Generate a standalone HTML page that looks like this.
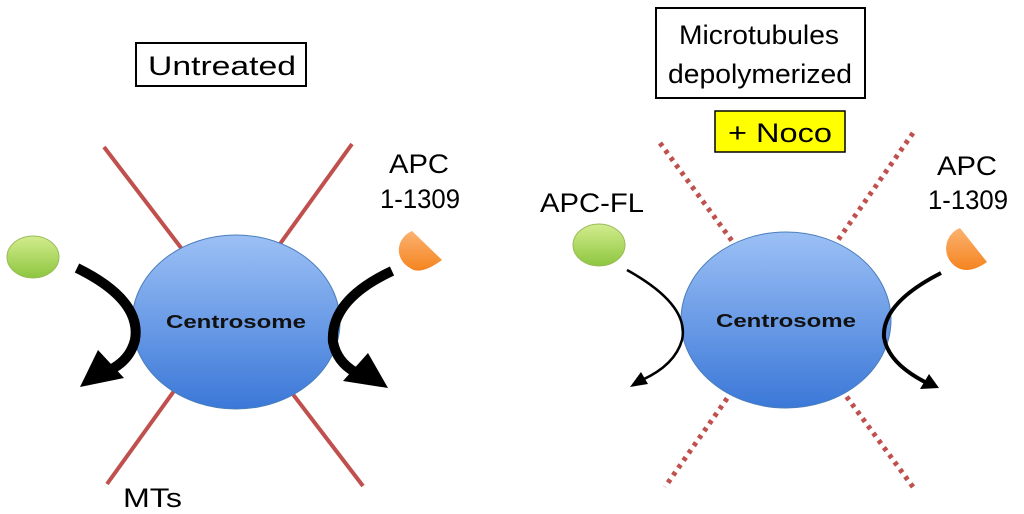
<!DOCTYPE html>
<html><head><meta charset="utf-8"><style>
body{margin:0;background:#fff;width:1024px;height:514px;overflow:hidden}
svg{display:block}
text{font-family:"Liberation Sans","DejaVu Sans",sans-serif}
</style></head><body>
<svg width="1024" height="514" viewBox="0 0 1024 514">
<defs>
<linearGradient id="g" x1="0" y1="0" x2="0" y2="1">
<stop offset="0" stop-color="#9cc0f5"/><stop offset="1" stop-color="#3b78d8"/></linearGradient>
<linearGradient id="gr" x1="0" y1="0" x2="0" y2="1">
<stop offset="0" stop-color="#d3ec8e"/><stop offset="1" stop-color="#8dc63f"/></linearGradient>
<linearGradient id="or" x1="0" y1="0" x2="0" y2="1">
<stop offset="0" stop-color="#fbb271"/><stop offset="1" stop-color="#f5841f"/></linearGradient>
</defs>
<rect x="136" y="43" width="170" height="43" fill="#fff" stroke="#000" stroke-width="2"/>
<text x="148" y="75" font-size="27" textLength="148" lengthAdjust="spacingAndGlyphs">Untreated</text>
<rect x="656" y="8" width="209" height="90" fill="#fff" stroke="#000" stroke-width="2"/>
<text x="679" y="44" font-size="27" textLength="160" lengthAdjust="spacingAndGlyphs">Microtubules</text>
<text x="668" y="83" font-size="27" textLength="184" lengthAdjust="spacingAndGlyphs">depolymerized</text>
<rect x="715" y="111" width="130" height="41" fill="#ffff00" stroke="#000" stroke-width="1.5"/>
<text x="728" y="142" font-size="27" textLength="104" lengthAdjust="spacingAndGlyphs">+ Noco</text>
<!-- left MTs -->
<line x1="104" y1="147" x2="363" y2="486" stroke="#c0504d" stroke-width="4"/>
<line x1="352" y1="144" x2="107" y2="484" stroke="#c0504d" stroke-width="4"/>
<ellipse cx="236" cy="322" rx="104" ry="87" fill="url(#g)" stroke="#4a7ebb" stroke-width="1"/>
<text x="236" y="328" font-size="18" font-weight="bold" text-anchor="middle" fill="#111" textLength="140" lengthAdjust="spacingAndGlyphs">Centrosome</text>
<ellipse cx="33" cy="257" rx="26" ry="21" fill="url(#gr)" stroke="#9bbb59"/>
<path d="M412,231 A23,21 0 0 0 410,268 Q420,276 442,260 Z" fill="url(#or)"/>
<text x="389" y="173" font-size="27" textLength="60" lengthAdjust="spacingAndGlyphs">APC</text>
<text x="380" y="208" font-size="27" textLength="80" lengthAdjust="spacingAndGlyphs">1-1309</text>
<text x="123" y="507" font-size="27" textLength="59" lengthAdjust="spacingAndGlyphs">MTs</text>
<!-- thick arrows left -->
<path d="M77,268 Q142,300 135,340 Q130,360 110,370" fill="none" stroke="#000" stroke-width="10"/>
<polygon points="80,387 98,350 124,378" fill="#000"/>
<path d="M392,271 Q330,300 333,342 Q337,362 355,372" fill="none" stroke="#000" stroke-width="10"/>
<polygon points="388,388 343,381 368,353" fill="#000"/>
<!-- right dashed MTs -->
<line x1="660" y1="143" x2="913" y2="487" stroke="#c0504d" stroke-width="5" stroke-dasharray="4,5"/>
<line x1="913" y1="133" x2="665" y2="487" stroke="#c0504d" stroke-width="5" stroke-dasharray="4,5"/>
<ellipse cx="786" cy="320" rx="105" ry="88" fill="url(#g)" stroke="#4a7ebb" stroke-width="1"/>
<text x="786" y="327" font-size="18" font-weight="bold" text-anchor="middle" fill="#111" textLength="140" lengthAdjust="spacingAndGlyphs">Centrosome</text>
<ellipse cx="599" cy="245" rx="26" ry="21" fill="url(#gr)" stroke="#9bbb59"/>
<path d="M960,228 A22,22 0 0 0 958,268 Q970,274 987,262 Z" fill="url(#or)"/>
<text x="540" y="212" font-size="27" textLength="104" lengthAdjust="spacingAndGlyphs">APC-FL</text>
<text x="937" y="175" font-size="27" textLength="60" lengthAdjust="spacingAndGlyphs">APC</text>
<text x="928" y="209" font-size="27" textLength="80" lengthAdjust="spacingAndGlyphs">1-1309</text>
<!-- thin arrows right -->
<path d="M627,270 Q690,305 682,340 Q675,365 642,380" fill="none" stroke="#000" stroke-width="2.5"/>
<polygon points="630,387 641,372 648,384" fill="#000"/>
<path d="M941,273 Q882,303 884,337 Q888,363 925,382" fill="none" stroke="#000" stroke-width="4"/>
<polygon points="939,388 920,389 929,374" fill="#000"/>
</svg>
</body></html>
